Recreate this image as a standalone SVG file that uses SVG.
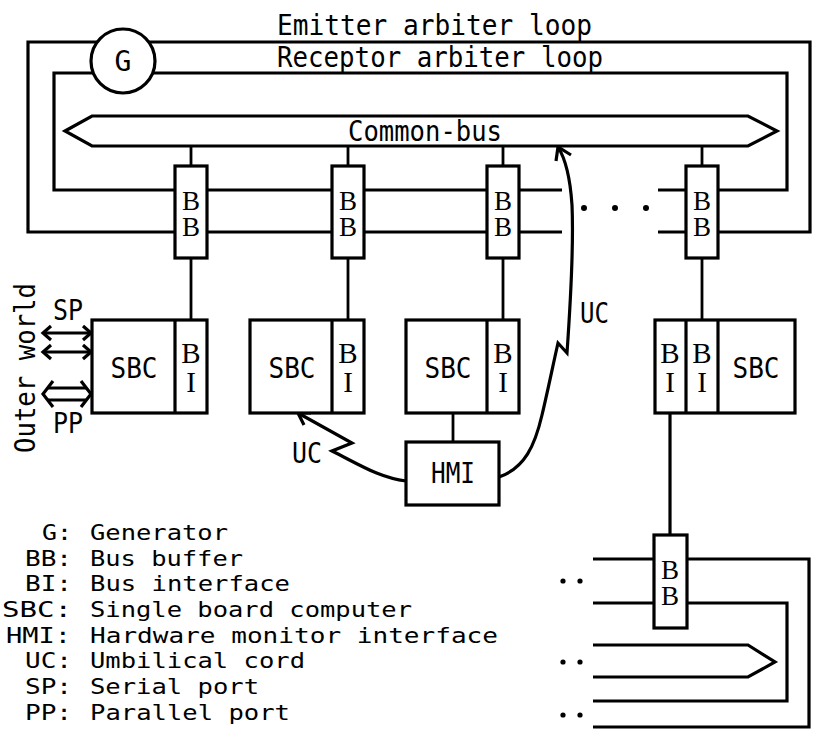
<svg xmlns="http://www.w3.org/2000/svg" width="818" height="739" viewBox="0 0 818 739">
<defs>
<style>
.ln{fill:none;stroke:#000;stroke-width:3.2;stroke-linejoin:miter;stroke-linecap:butt}
.thin{fill:none;stroke:#000;stroke-width:2.8}
.box{fill:#fff;stroke:#000;stroke-width:3.2}
.t{font-family:"DejaVu Sans Mono","Liberation Mono",monospace;font-size:28px;fill:#000}
.lg{font-family:"DejaVu Sans Mono","Liberation Mono",monospace;font-size:22px;fill:#000}
.s{font-family:"Liberation Serif","DejaVu Serif",serif;font-size:27px;fill:#000;text-anchor:middle}
.v{writing-mode:vertical-lr;text-orientation:upright;letter-spacing:-4px}
.bi{font-size:29px;letter-spacing:-3px}
.m{text-anchor:middle}
.e{text-anchor:end}
.head{fill:none;stroke:#000;stroke-width:3.2;stroke-linejoin:miter}
</style>
</defs>
<rect width="818" height="739" fill="#fff"/>

<g id="connectors">
  <!-- emitter arbiter loop (outer) -->
  <path class="ln" d="M97,42 L28,42 L28,232 L562,232 M658,232 L810,232 L810,42 L149,42"/>
  <!-- receptor arbiter loop (inner) -->
  <path class="ln" d="M93,73 L54,73 L54,190 L562,190 M658,190 L787,190 L787,73 L153,73"/>
  <!-- bus stubs -->
  <path class="thin" d="M191,146 V166 M348,146 V166 M503,146 V166 M702,146 V166"/>
  <!-- BB to SBC stubs -->
  <path class="thin" d="M191,258 V320 M348,258 V320 M503,258 V320 M702,258 V320"/>
  <!-- SBC3 to HMI -->
  <path class="thin" d="M453,413 V442"/>
  <!-- SBC4 BI to BB5 -->
  <path class="ln" d="M670,413 V535"/>
  <!-- lower right loops -->
  <path class="ln" d="M593,559 L654,559 M687,559 L809,559 L809,727 L593,727"/>
  <path class="ln" d="M593,603 L654,603 M687,603 L787,603 L787,701 L593,701"/>
  <path class="ln" d="M593,645 L748,645 L775,662 L748,677 L593,677"/>
  <!-- dots -->
  <g fill="#000">
    <circle cx="584" cy="208" r="3"/><circle cx="615" cy="208" r="3"/><circle cx="646" cy="208" r="3"/>
    <circle cx="563" cy="581" r="2.6"/><circle cx="580" cy="581" r="2.6"/>
    <circle cx="563" cy="662" r="2.6"/><circle cx="580" cy="662" r="2.6"/>
    <circle cx="563" cy="715" r="2.6"/><circle cx="580" cy="715" r="2.6"/>
  </g>
  <!-- UC left umbilical cord -->
  <path class="ln" d="M406,481 C380,478 360,465 332,451 L352,443 L298,413"/>
  <path class="head" d="M304,425 L298,413 L311,413"/>
  <!-- UC right umbilical cord -->
  <path class="ln" d="M499,477 C525,468 535,445 542,415 C548,390 553,365 558,343 L567,353 C570,310 574,250 572,205 C570,175 565,158 558,147"/>
  <path class="head" d="M556,161 L558,147 L571,155"/>
  <!-- SP arrows -->
  <path class="ln" d="M43,333 H91 M43,352 H91"/>
  <path class="head" d="M51,326 L43,333 L51,340 M83,326 L91,333 L83,340 M51,345 L43,352 L51,359 M83,345 L91,352 L83,359"/>
  <!-- PP double arrow -->
  <path class="ln" d="M48,388 H87 M48,400 H87"/>
  <path class="head" d="M53,381 L43,394 L53,407 M81,381 L91,394 L81,407"/>
</g>

<g id="loop-labels">
  <text class="t" x="277" y="35" textLength="315" lengthAdjust="spacingAndGlyphs">Emitter arbiter loop</text>
  <text class="t" x="277" y="67" textLength="326" lengthAdjust="spacingAndGlyphs">Receptor arbiter loop</text>
</g>

<g id="G">
  <circle cx="123" cy="61" r="32" fill="#fff" stroke="#000" stroke-width="3.2"/>
  <text class="t m" x="123" y="71">G</text>
</g>

<g id="common-bus">
  <polygon class="box" points="65,131 92,116 748,116 777,131 748,146 92,146"/>
  <text class="t" x="348" y="141" textLength="154" lengthAdjust="spacingAndGlyphs">Common-bus</text>
</g>

<g id="BB1"><rect class="box" x="175" y="166" width="32" height="92"/><text class="s v" x="191" y="212">BB</text></g>
<g id="BB2"><rect class="box" x="332" y="166" width="32" height="92"/><text class="s v" x="348" y="212">BB</text></g>
<g id="BB3"><rect class="box" x="487" y="166" width="32" height="92"/><text class="s v" x="503" y="212">BB</text></g>
<g id="BB4"><rect class="box" x="686" y="166" width="32" height="92"/><text class="s v" x="702" y="212">BB</text></g>
<g id="BB5"><rect class="box" x="654" y="535" width="33" height="93"/><text class="s v" x="670" y="581">BB</text></g>

<g id="SBC1">
  <rect class="box" x="92" y="320" width="115" height="93"/>
  <line x1="175" y1="320" x2="175" y2="413" stroke="#000" stroke-width="3.2"/>
  <text class="t m" x="134" y="378" textLength="47" lengthAdjust="spacingAndGlyphs">SBC</text>
  <text class="s v bi" x="191" y="366">BI</text>
</g>
<g id="SBC2">
  <rect class="box" x="250" y="320" width="114" height="93"/>
  <line x1="332" y1="320" x2="332" y2="413" stroke="#000" stroke-width="3.2"/>
  <text class="t m" x="292" y="378" textLength="47" lengthAdjust="spacingAndGlyphs">SBC</text>
  <text class="s v bi" x="348" y="366">BI</text>
</g>
<g id="SBC3">
  <rect class="box" x="406" y="320" width="113" height="93"/>
  <line x1="487" y1="320" x2="487" y2="413" stroke="#000" stroke-width="3.2"/>
  <text class="t m" x="448" y="378" textLength="47" lengthAdjust="spacingAndGlyphs">SBC</text>
  <text class="s v bi" x="503" y="366">BI</text>
</g>
<g id="SBC4">
  <rect class="box" x="655" y="320" width="140" height="93"/>
  <line x1="686" y1="320" x2="686" y2="413" stroke="#000" stroke-width="3.2"/>
  <line x1="718" y1="320" x2="718" y2="413" stroke="#000" stroke-width="3.2"/>
  <text class="s v bi" x="670" y="366">BI</text>
  <text class="s v bi" x="702" y="366">BI</text>
  <text class="t m" x="756" y="378" textLength="47" lengthAdjust="spacingAndGlyphs">SBC</text>
</g>
<g id="HMI">
  <rect class="box" x="406" y="442" width="93" height="63"/>
  <text class="t m" x="453" y="483" textLength="44" lengthAdjust="spacingAndGlyphs">HMI</text>
</g>

<g id="labels">
  <text class="t" transform="translate(35,453) rotate(-90)" x="0" y="0" textLength="170" lengthAdjust="spacingAndGlyphs">Outer world</text>
  <text class="t" x="53" y="320" textLength="30" lengthAdjust="spacingAndGlyphs">SP</text>
  <text class="t" x="53" y="433" textLength="30" lengthAdjust="spacingAndGlyphs">PP</text>
  <text class="t" x="292" y="463" textLength="30" lengthAdjust="spacingAndGlyphs">UC</text>
  <text class="t" x="580" y="323" textLength="29" lengthAdjust="spacingAndGlyphs">UC</text>
</g>

<g id="legend">
  <text class="lg" x="42" y="540" textLength="30" lengthAdjust="spacingAndGlyphs">G:</text><text class="lg" x="90" y="540" textLength="138" lengthAdjust="spacingAndGlyphs">Generator</text>
  <text class="lg" x="25" y="566" textLength="47" lengthAdjust="spacingAndGlyphs">BB:</text><text class="lg" x="90" y="566" textLength="153" lengthAdjust="spacingAndGlyphs">Bus buffer</text>
  <text class="lg" x="25" y="591" textLength="47" lengthAdjust="spacingAndGlyphs">BI:</text><text class="lg" x="90" y="591" textLength="200" lengthAdjust="spacingAndGlyphs">Bus interface</text>
  <text class="lg" x="2" y="617" textLength="70" lengthAdjust="spacingAndGlyphs">SBC:</text><text class="lg" x="90" y="617" textLength="322" lengthAdjust="spacingAndGlyphs">Single board computer</text>
  <text class="lg" x="6" y="643" textLength="65" lengthAdjust="spacingAndGlyphs">HMI:</text><text class="lg" x="90" y="643" textLength="408" lengthAdjust="spacingAndGlyphs">Hardware monitor interface</text>
  <text class="lg" x="25" y="668" textLength="47" lengthAdjust="spacingAndGlyphs">UC:</text><text class="lg" x="90" y="668" textLength="215" lengthAdjust="spacingAndGlyphs">Umbilical cord</text>
  <text class="lg" x="25" y="694" textLength="47" lengthAdjust="spacingAndGlyphs">SP:</text><text class="lg" x="90" y="694" textLength="169" lengthAdjust="spacingAndGlyphs">Serial port</text>
  <text class="lg" x="25" y="720" textLength="47" lengthAdjust="spacingAndGlyphs">PP:</text><text class="lg" x="90" y="720" textLength="200" lengthAdjust="spacingAndGlyphs">Parallel port</text>
</g>
</svg>
